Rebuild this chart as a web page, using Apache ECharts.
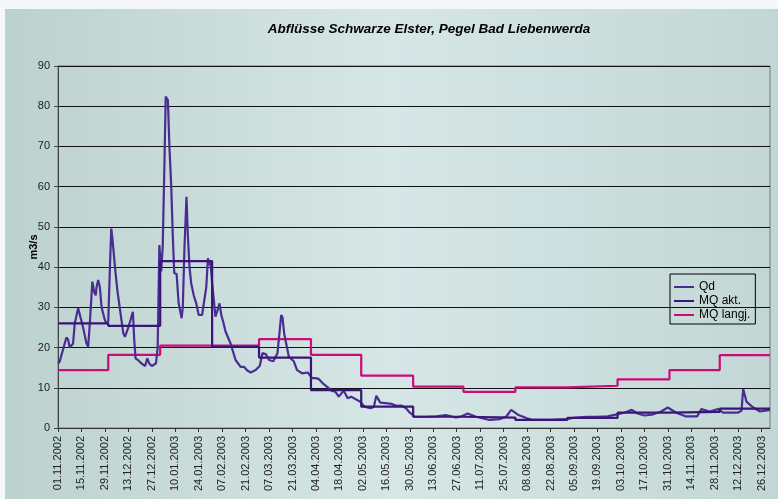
<!DOCTYPE html>
<html>
<head>
<meta charset="utf-8">
<script src="https://cdn.jsdelivr.net/npm/echarts@6/dist/echarts.min.js"></script>
<style>
html,body{margin:0;padding:0;background:#f4f8fa;}
#c{width:778px;height:499px;}
</style>
</head>
<body>
<div id="c"></div>
<script>
// X tick labels (every 14 days, day index 0 = 01.11.2002)
var xTickLabels = ['01.11.2002','15.11.2002','29.11.2002','13.12.2002','27.12.2002','10.01.2003','24.01.2003','07.02.2003','21.02.2003','07.03.2003','21.03.2003','04.04.2003','18.04.2003','02.05.2003','16.05.2003','30.05.2003','13.06.2003','27.06.2003','11.07.2003','25.07.2003','08.08.2003','22.08.2003','05.09.2003','19.09.2003','03.10.2003','17.10.2003','31.10.2003','14.11.2003','28.11.2003','12.12.2003','26.12.2003'];
var lastDay = 425; // 31.12.2003

// Qd: day index and discharge (m3/s)
var qdDay = [0,1,3,5,6,7,8,9,10,12,13,15,17,18,19,20.5,21.5,22.5,23,24,25,26,28,29,30,31,31.8,32.5,34,35.5,37,39,40,42,44.7,45.5,46.3,48,50,52,53.3,54.5,56,58.5,59.5,60.5,61.6,62.5,63.5,64.3,65.6,66.5,67.6,68.5,69.4,70.8,72,73.8,74.5,75.5,76.7,77.5,78.5,79.5,81,82.5,84,86,87,88.5,89.5,90.2,91,92,94,95,96.4,97.5,98.6,100,103,106,109,111,113,115,118,120.5,122,124,126,128.5,131,132.3,133.2,134,135,137.8,140.7,142.7,145.7,149,150,151.7,153.6,155.6,158.6,161.6,163.5,165.6,167.6,170.5,172.9,175,177.5,180.5,183,186.5,188.5,190,192.4,195.5,199,202,205,208,210,213,220,226,231.5,237.5,241,244.5,249.5,257.5,263.5,267.5,270.5,274.5,279.5,283.5,293.5,303.5,307.5,315.5,321.5,328,333.6,338,342.5,346,350,354.5,360,364,369,374.6,381.5,384,389,394,397,405.7,408,409,411,415,419,422,425];
var qdVal = [16.0,16.5,19.5,22.5,22.0,20.0,19.6,21.0,26.0,29.8,29.5,25.0,21.0,20.2,26.0,36.4,34.0,33.0,35.0,36.8,35.0,30.0,26.8,26.0,26.5,40.0,49.6,47.0,40.0,34.0,29.5,23.5,22.7,25.0,28.9,22.0,17.3,16.8,16.0,15.4,17.3,16.0,15.4,16.1,20.0,45.5,38.9,45.0,65.0,82.4,81.5,70.0,60.0,48.0,38.5,38.3,31.0,27.3,30.0,45.0,57.5,48.0,40.0,36.0,33.0,31.0,28.1,28.1,27.8,35.0,42.2,40.5,41.4,36.0,27.7,29.0,31.0,28.0,26.4,24.0,21.0,16.9,15.2,15.2,14.3,13.8,14.4,15.5,18.6,18.4,16.9,16.6,18.6,24.0,28.1,27.5,23.5,17.7,16.6,14.4,13.6,13.8,13.6,12.4,12.4,12.2,10.9,9.9,9.2,9.0,7.8,9.3,7.4,7.8,7.2,6.5,5.3,4.9,5.2,8.0,6.3,6.2,6.0,5.5,5.6,4.8,3.8,2.8,2.8,2.9,3.2,2.6,2.9,3.6,2.8,2.0,2.2,2.8,4.5,3.3,2.5,2.0,2.0,2.2,2.5,2.8,2.8,2.9,3.4,3.8,4.5,3.6,3.1,3.3,4.1,5.1,3.8,2.9,2.9,4.7,4.1,4.7,3.8,3.8,4.3,9.7,6.5,5.1,4.1,4.3,4.5];

// Monthly means: first day index of each month
var monthStart = [0,30,61,92,120,151,181,212,242,273,304,334,365,395];
var mqAkt   = [26.0,25.4,41.5,20.2,17.5,9.4,5.3,2.8,2.6,2.0,2.5,3.8,4.0,4.8];
var mqLangj = [14.4,18.2,20.5,20.5,22.1,18.2,13.0,10.3,9.0,10.1,10.5,12.1,14.4,18.1];

var yTicks = [0,10,20,30,40,50,60,70,80,90];

function pairs(xs, ys){ return xs.map(function(x,i){ return [x, ys[i]]; }); }
function steps(vals){ var d = pairs(monthStart, vals); d.push([lastDay, vals[vals.length-1]]); return d; }

var chart = echarts.init(document.getElementById('c'), null, {renderer:'canvas'});
var font = 'Liberation Sans, Arial, sans-serif';
chart.setOption({
  animation:false,
  backgroundColor:'transparent',
  graphic:[{
    type:'rect', left:5, top:9, z:-10, silent:true,
    shape:{width:773, height:490},
    style:{fill:new echarts.graphic.LinearGradient(0,0,1,0,[
      {offset:0,color:'#bcd2cf'},{offset:0.5,color:'#d6e6e6'},{offset:1,color:'#c2d7d5'}])}
  }],
  title:{
    text:'Abflüsse Schwarze Elster, Pegel Bad Liebenwerda',
    left:424, top:17, textAlign:'center',
    textStyle:{fontFamily:font, fontSize:13.5, fontWeight:'bold', fontStyle:'italic', color:'#000'}
  },
  grid:{left:58, right:8, top:66, bottom:71, show:true, borderColor:'#777', borderWidth:1, backgroundColor:'transparent'},
  legend:{
    data:['Qd','MQ akt.','MQ langj.'],
    orient:'vertical', left:670, top:274,
    borderColor:'#000', borderWidth:1, padding:[7,5,3,4],
    itemGap:2, itemWidth:20, itemHeight:2, icon:'rect',
    textStyle:{fontFamily:font, fontSize:12, color:'#000', padding:[0,0,0,0]}
  },
  xAxis:{
    type:'value', min:0, max:lastDay, interval:14,
    axisLine:{show:true, lineStyle:{color:'#333', width:1}},
    axisTick:{show:true, inside:false, length:4, lineStyle:{color:'#333'}},
    splitLine:{show:false},
    axisLabel:{rotate:90, margin:8, fontFamily:font, fontSize:11, color:'#222', showMaxLabel:false,
      formatter:function(v){ var i = v/14; return (Math.round(i)===i && xTickLabels[i]) ? xTickLabels[i] : ''; }}
  },
  yAxis:{
    type:'value', min:0, max:90, interval:10,
    name:'m3/s', nameLocation:'middle', nameGap:19, nameRotate:90, nameMoveOverlap:false,
    nameTextStyle:{fontFamily:font, fontSize:11, fontWeight:'bold', color:'#000'},
    axisLine:{show:true, lineStyle:{color:'#444', width:1}},
    axisTick:{show:true, inside:false, length:4, lineStyle:{color:'#444'}},
    splitLine:{show:true, lineStyle:{color:'#111', width:1}},
    axisLabel:{fontFamily:font, fontSize:11, color:'#222', margin:8,
      formatter:function(v){ return yTicks.indexOf(v) >= 0 ? String(v) : ''; }}
  },
  series:[
    {name:'Qd', type:'line', data:pairs(qdDay, qdVal), showSymbol:false, symbol:'none',
     lineStyle:{color:'#4a2d92', width:2.2}, itemStyle:{color:'#4a2d92'}, z:3},
    {name:'MQ akt.', type:'line', step:'end', data:steps(mqAkt), showSymbol:false, symbol:'none',
     lineStyle:{color:'#3a1478', width:2.2}, itemStyle:{color:'#3a1478'}, z:4},
    {name:'MQ langj.', type:'line', step:'end', data:steps(mqLangj), showSymbol:false, symbol:'none',
     lineStyle:{color:'#cc0a7a', width:2.2}, itemStyle:{color:'#cc0a7a'}, z:2}
  ]
});
</script>
</body>
</html>
